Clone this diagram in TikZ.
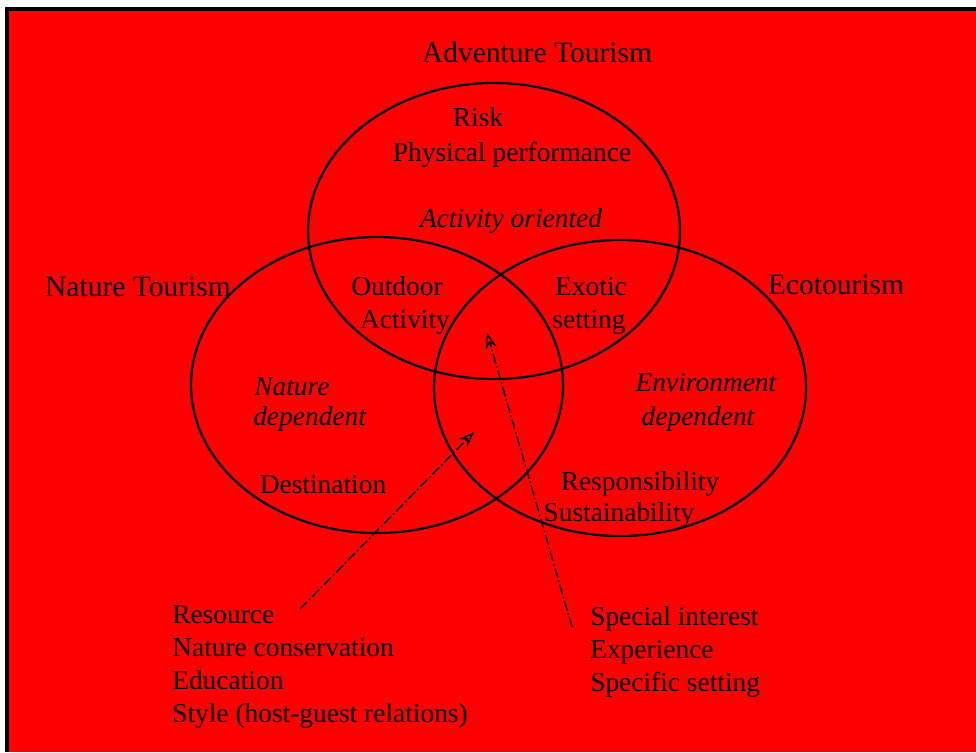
\documentclass[tikz,border=0pt]{standalone}
\usepackage{fontspec}
\setmainfont{Liberation Serif}
\usetikzlibrary{arrows.meta}

\begin{document}
\begin{tikzpicture}[x=0.025cm,y=-0.025cm,>={Stealth[open,length=11pt,width=8pt]},
  ring/.style={line width=1.6pt},
  pointer/.style={->,line width=1pt,dash pattern=on 7pt off 2pt on 1.2pt off 2pt},
  title/.style={inner sep=0pt,font=\fontsize{21}{25}\selectfont},
  lbl/.style={inner sep=0pt,font=\fontsize{19.5}{23.5}\selectfont},
  ilbl/.style={inner sep=0pt,font=\fontsize{19.5}{23.5}\selectfont\itshape}]
  \useasboundingbox (0,0) rectangle (976,752);
  \fill[white] (0,0) rectangle (976,752);
  \fill[black] (5,7) rectangle (976,752);
  \fill[red] (9,11) rectangle (976,752);
  \foreach \n/\x/\y in {adv/494/231,nat/377/385,eco/620/388}
  {
    \coordinate (\n) at (\x,\y);
    \draw[ring] (\n) ellipse [x radius=186, y radius=148];
  }
  \node[title,anchor=base] (advt) at (537,62) {Adventure Tourism};
  \node[title,anchor=base] (natt) at (138,296) {Nature Tourism};
  \node[title,anchor=base] (ecot) at (836,294) {Ecotourism};
  \node[lbl,anchor=base] (risk) at (478,126) {Risk};
  \node[lbl,anchor=base] (perf) at (512,161) {Physical performance};
  \node[ilbl,anchor=base] (actor) at (511,227) {Activity oriented};
  \node[lbl,anchor=base] (outd) at (397,295) {Outdoor};
  \node[lbl,anchor=base] (acty) at (405,328) {Activity};
  \node[lbl,anchor=base] (exot) at (591,295) {Exotic};
  \node[lbl,anchor=base] (sett) at (589,328) {setting};
  \node[ilbl,anchor=base west] (natd) at (254,395) {Nature};
  \node[ilbl,anchor=base west] (depn) at (253,425) {dependent};
  \node[ilbl,anchor=base] (envd) at (706,391) {Environment};
  \node[ilbl,anchor=base] (depe) at (698,425) {dependent};
  \node[lbl,anchor=base] (dest) at (323,493) {Destination};
  \node[lbl,anchor=base] (resp) at (640,490) {Responsibility};
  \node[lbl,anchor=base] (sust) at (619,521) {Sustainability};
  \foreach \t [count=\i] in {Resource,Nature conservation,Education,Style (host-guest relations)}
    \node[lbl,anchor=base west] (left\i) at (172,590+33*\i) {\t};
  \foreach \t [count=\i] in {Special interest,Experience,Specific setting}
    \node[lbl,anchor=base west] (right\i) at (590,592+33*\i) {\t};
  \coordinate (tip1) at (474,432);
  \coordinate (tail1) at (300,609);
  \coordinate (tip2) at (487,333);
  \coordinate (tail2) at (572,627);
  \draw[pointer] (tail1) -- (tip1);
  \draw[pointer] (tail2) -- (tip2);
\end{tikzpicture}
\end{document}
